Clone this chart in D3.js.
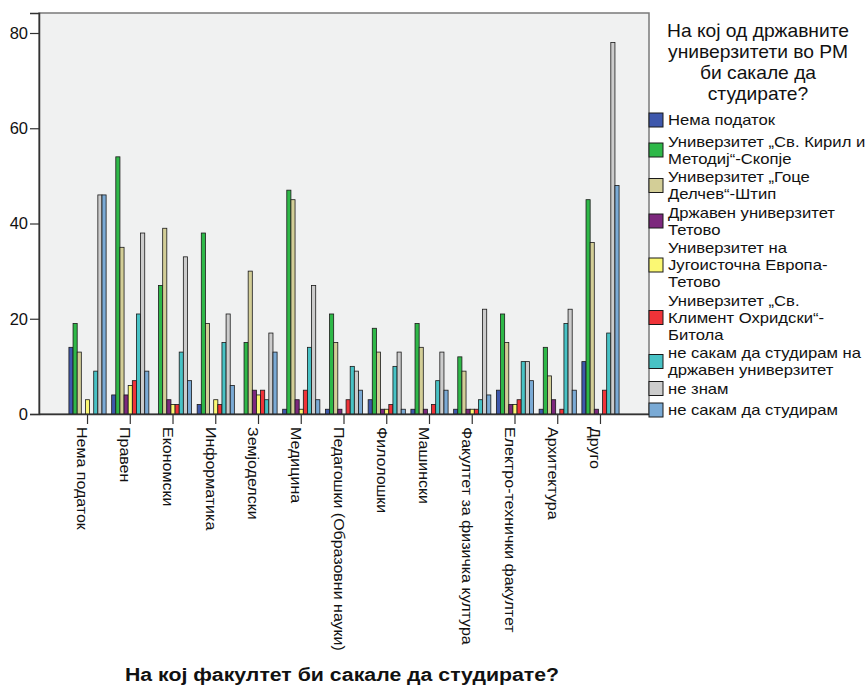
<!DOCTYPE html>
<html>
<head>
<meta charset="utf-8">
<script src="https://cdn.jsdelivr.net/npm/d3@7/dist/d3.min.js"></script>
<style>
  html, body { margin: 0; padding: 0; background: #ffffff; }
  svg { display: block; font-family: "Liberation Sans", Arial, sans-serif; }
</style>
</head>
<body>
<svg id="chart" width="868" height="689"></svg>
<script>
// ---------- DATA ----------
const categories = [
  "Нема податок", "Правен", "Економски", "Информатика", "Земјоделски",
  "Медицина", "Педагошки (Образовни науки)", "Филолошки", "Машински",
  "Факултет за физичка култура", "Електро-технички факултет", "Архитектура", "Друго"
];
const seriesNames = [
  "Нема податок",
  "Универзитет „Св. Кирил и\nМетодиј“-Скопје",
  "Универзитет „Гоце\nДелчев“-Штип",
  "Државен универзитет\nТетово",
  "Универзитет на\nЈугоисточна Европа-\nТетово",
  "Универзитет „Св.\nКлимент Охридски“-\nБитола",
  "не сакам да студирам на\nдржавен универзитет",
  "не знам",
  "не сакам да студирам"
];
const seriesColors = ["#3E58AC", "#2EB848", "#D3CE97", "#7C287D", "#FBF873", "#EF3338", "#48C2C5", "#CCCCCC", "#7AAAD5"];
// values per series, in category order
const nemaPodatok   = [14, 4, 0, 2, 0, 1, 1, 3, 1, 1, 5, 1, 11];
const ukimSkopje    = [19, 54, 27, 38, 15, 47, 21, 18, 19, 12, 21, 14, 45];
const ugdStip       = [13, 35, 39, 19, 30, 45, 15, 13, 14, 9, 15, 8, 36];
const dutTetovo     = [0, 4, 3, 0, 5, 3, 1, 1, 1, 1, 2, 3, 1];
const seeuTetovo    = [3, 6, 2, 3, 4, 1, 0, 1, 0, 1, 2, 0, 0];
const uklo          = [0, 7, 2, 2, 5, 5, 3, 2, 2, 1, 3, 1, 5];
const neDrzaven     = [9, 21, 13, 15, 3, 14, 10, 10, 7, 3, 11, 19, 17];
const neZnam        = [46, 38, 33, 21, 17, 27, 9, 13, 13, 22, 11, 22, 78];
const neStudiram    = [46, 9, 7, 6, 13, 3, 5, 1, 5, 4, 7, 5, 48];
const seriesValues = [nemaPodatok, ukimSkopje, ugdStip, dutTetovo, seeuTetovo, uklo, neDrzaven, neZnam, neStudiram];
const yTicks = [0, 20, 40, 60, 80];
const yMax = 84.2;
const xTitle = "На кој факултет би сакале да студирате?";
const legendTitle = ["На кој од државните", "универзитети во РМ", "би сакале да", "студирате?"];

// ---------- LAYOUT ----------
const plot = { left: 39, right: 649, top: 13, bottom: 414 };
const svg = d3.select("#chart");

const x0 = d3.scaleBand().domain(categories).range([plot.left, plot.right])
  .paddingInner(0.13).paddingOuter(0.7);
const x1 = d3.scaleBand().domain(d3.range(seriesNames.length)).range([0, x0.bandwidth()]).padding(0);
const y = d3.scaleLinear().domain([0, yMax]).range([plot.bottom, plot.top]);

// plot background
svg.append("rect")
  .attr("x", plot.left).attr("y", plot.top)
  .attr("width", plot.right - plot.left).attr("height", plot.bottom - plot.top)
  .attr("fill", "#F0F1F1").attr("stroke", "#7a7a7a").attr("stroke-width", 1.5);

// bars
const groups = svg.append("g").selectAll("g").data(categories).join("g")
  .attr("transform", d => `translate(${x0(d)},0)`);
groups.selectAll("rect")
  .data((c, ci) => seriesValues.map((vals, si) => ({ si, v: vals[ci] })).filter(d => d.v > 0))
  .join("rect")
  .attr("x", d => x1(d.si))
  .attr("width", x1.bandwidth())
  .attr("y", d => y(d.v))
  .attr("height", d => y(0) - y(d.v))
  .attr("fill", d => seriesColors[d.si])
  .attr("stroke", "#1a1a1a").attr("stroke-width", 0.8);

// y axis
const yAxis = svg.append("g").attr("transform", `translate(${plot.left},0)`)
  .call(d3.axisLeft(y).tickValues(yTicks).tickSize(9).tickPadding(2).tickFormat(d3.format("d")));
yAxis.select(".domain").attr("stroke", "#333").attr("stroke-width", 1.5);
yAxis.selectAll(".tick line").attr("stroke", "#333").attr("stroke-width", 1.2);
yAxis.selectAll(".tick text").attr("font-size", 16.5).attr("fill", "#111")
  .attr("font-family", "Liberation Sans, Arial, sans-serif");

// x axis
const xAxis = svg.append("g").attr("transform", `translate(0,${plot.bottom})`)
  .call(d3.axisBottom(x0).tickSize(10).tickSizeOuter(0));
xAxis.select(".domain").attr("stroke", "#333").attr("stroke-width", 1.5);
xAxis.selectAll(".tick line").attr("stroke", "#333").attr("stroke-width", 1.2);
xAxis.selectAll(".tick text")
  .attr("font-size", 16).attr("fill", "#111")
  .attr("font-family", "Liberation Sans, Arial, sans-serif")
  .attr("text-anchor", "start")
  .attr("transform", "translate(-5,13) rotate(90) scale(1,0.92)")
  .attr("x", 0).attr("y", 0).attr("dy", "0.35em");

// x title (slightly widened, as in the reference)
svg.append("text").attr("transform", "translate(342,681) scale(1.12,1)")
  .attr("text-anchor", "middle").attr("font-size", 19).attr("font-weight", "bold")
  .attr("fill", "#111").text(xTitle);

// legend title
const lt = svg.append("text").attr("transform", "translate(758,0) scale(1.1,1)")
  .attr("text-anchor", "middle").attr("font-size", 17.5).attr("fill", "#111");
legendTitle.forEach((line, i) => {
  lt.append("tspan").attr("x", 0).attr("y", 37 + i * 21).text(line);
});

// legend items
const legend = svg.append("g");
let ly = 120;
const lineH = 17;
seriesNames.forEach((name, i) => {
  const lines = name.split("\n");
  const blockH = (lines.length - 1) * lineH;
  legend.append("rect")
    .attr("x", 649).attr("y", ly + blockH / 2 - 7).attr("width", 14).attr("height", 14)
    .attr("fill", seriesColors[i]).attr("stroke", "#1a1a1a").attr("stroke-width", 1);
  const t = legend.append("text").attr("transform", `translate(668,${ly}) scale(1.14,1)`)
    .attr("font-size", 14.6).attr("fill", "#111");
  lines.forEach((ln, k) => {
    t.append("tspan").attr("x", 0).attr("y", k * lineH).attr("dy", "0.35em").text(ln);
  });
  ly += Math.max(lines.length * lineH, 20) + 1.5;
});
</script>
</body>
</html>
